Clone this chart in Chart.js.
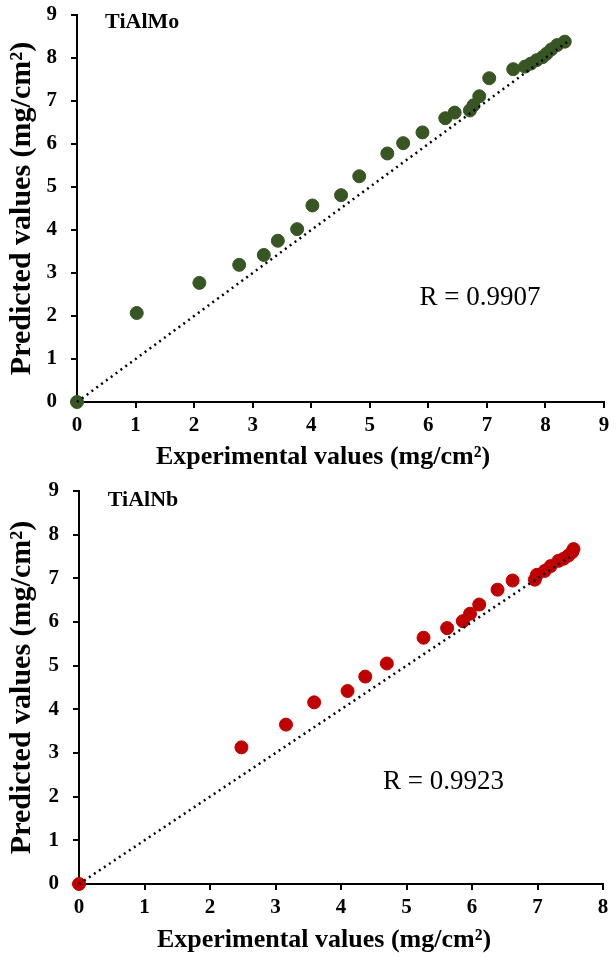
<!DOCTYPE html>
<html lang="en">
<head>
    <meta charset="UTF-8">
    <title>Predicted vs experimental values</title>
    <script src="https://cdn.jsdelivr.net/npm/chart.js"></script>
    <style>
        html, body { margin: 0; padding: 0; background: #ffffff; }
        .box { position: absolute; left: 0; width: 616px; }
        #boxMo { top: 0; height: 470px; }
        #boxNb { top: 470px; height: 488px; }
    </style>
</head>
<body>
    <!-- TiAlMo -->
    <div class="box" id="boxMo"><canvas id="chartMo"></canvas></div>
    <!-- TiAlNb -->
    <div class="box" id="boxNb"><canvas id="chartNb"></canvas></div>

<script>
// =================================================================
//                          data
// =================================================================

// TiAlMo : experimental / predicted (mg/cm2)
const moExperimental = [0, 1.02, 2.09, 2.77, 3.19, 3.43, 3.76, 4.02, 4.51, 4.82, 5.30, 5.57, 5.90, 6.29, 6.45, 6.71, 6.77, 6.87, 7.04, 7.45, 7.65, 7.75, 7.85, 7.95, 8.02, 8.10, 8.20, 8.33];
const moPredicted    = [0, 2.07, 2.77, 3.19, 3.42, 3.75, 4.02, 4.57, 4.81, 5.25, 5.78, 6.02, 6.27, 6.60, 6.73, 6.78, 6.90, 7.11, 7.53, 7.74, 7.80, 7.87, 7.95, 8.02, 8.10, 8.20, 8.30, 8.38];
const moLine = [0, 8.4];        // y = x reference line ends
const moTicks = [0, 1, 2, 3, 4, 5, 6, 7, 8, 9];

// TiAlNb : experimental / predicted (mg/cm2)
const nbExperimental = [0, 2.48, 3.16, 3.59, 4.10, 4.37, 4.70, 5.26, 5.62, 5.86, 5.97, 6.11, 6.39, 6.62, 6.96, 6.99, 7.11, 7.20, 7.32, 7.40, 7.47, 7.53, 7.55];
const nbPredicted    = [0, 3.13, 3.65, 4.16, 4.42, 4.75, 5.05, 5.64, 5.86, 6.02, 6.19, 6.40, 6.74, 6.95, 6.97, 7.08, 7.17, 7.28, 7.40, 7.45, 7.52, 7.60, 7.67];
const nbLine = [0, 7.55];
const nbXTicks = [0, 1, 2, 3, 4, 5, 6, 7, 8];
const nbYTicks = [0, 1, 2, 3, 4, 5, 6, 7, 8, 9];

const xTitle = 'Experimental values (mg/cm²)';
const yTitle = 'Predicted values (mg/cm²)';

// =================================================================
//                          helpers
// =================================================================

function toPoints(xs, ys) {
    let out = [];
    for (let i = 0; i < xs.length; i++) {
        out.push({x: xs[i], y: ys[i]});
    }
    return out;
}

// text inside the plot (data units) + the x title (sits a bit left of centre in the original)
const notesPlugin = {
    id: 'notes',
    afterDraw(chart, args, opts) {
        const ctx = chart.ctx;
        const sx = chart.scales.x, sy = chart.scales.y;
        ctx.save();
        ctx.fillStyle = '#000';
        ctx.textBaseline = 'middle';
        ctx.textAlign = 'left';
        for (const n of opts.items) {
            ctx.font = n.font;
            ctx.fillText(n.text, sx.getPixelForValue(n.x), sy.getPixelForValue(n.y));
        }
        ctx.textAlign = 'center';
        ctx.font = 'bold 26px "Liberation Serif"';
        ctx.fillText(xTitle, opts.titleX, chart.height - opts.titleDy);
        ctx.restore();
    }
};

const tickFont = {family: 'Liberation Serif', size: 21, weight: 'bold'};
const yTitleFont = {family: 'Liberation Serif', size: 30, weight: 'bold', lineHeight: 1};

function makeChart(id, xs, ys, line, xTicks, yTicks, color, xMax, pad, notes) {
    return new Chart(document.getElementById(id), {
        type: 'scatter',
        data: {
            datasets: [{
                label: 'y = x',
                type: 'line',
                data: toPoints(line, line),
                borderColor: '#000',
                borderWidth: 2.5,
                borderDash: [2, 4],
                pointRadius: 0,
                order: 0
            }, {
                label: 'points',
                data: toPoints(xs, ys),
                backgroundColor: color,
                borderColor: color,
                pointRadius: 6.5,
                order: 1
            }]
        },
        options: {
            responsive: true,
            maintainAspectRatio: false,
            animation: false,
            clip: false,
            events: [],
            layout: {padding: {left: 0, right: pad.right, top: pad.top, bottom: 0}},
            plugins: {
                legend: {display: false},
                tooltip: {enabled: false},
                notes: {items: notes, titleX: pad.tx, titleDy: pad.tdy}
            },
            scales: {
                x: {
                    type: 'linear',
                    min: 0, max: xMax,
                    afterBuildTicks: s => { s.ticks = xTicks.map(v => ({value: v})); },
                    afterFit: s => { s.height = pad.xh; s.paddingLeft = 0; s.paddingRight = 0; },
                    grid: {drawOnChartArea: false, drawTicks: true, tickLength: 6, color: '#000', lineWidth: 2},
                    border: {display: true, color: '#000', width: 2},
                    ticks: {color: '#000', font: tickFont, padding: 5, maxRotation: 0},
                    title: {display: false}
                },
                y: {
                    type: 'linear',
                    min: 0, max: 9,
                    afterBuildTicks: s => { s.ticks = yTicks.map(v => ({value: v})); },
                    afterFit: s => { s.width = pad.yw; s.paddingTop = 0; s.paddingBottom = 0; },
                    grid: {drawOnChartArea: false, drawTicks: true, tickLength: 6, color: '#000', lineWidth: 2},
                    border: {display: true, color: '#000', width: 2},
                    ticks: {color: '#000', font: tickFont, padding: 14},
                    title: {display: true, text: yTitle, color: '#000', font: yTitleFont, padding: {top: 7, bottom: 0}}
                }
            }
        },
        plugins: [notesPlugin]
    });
}

// =================================================================
//                          charts
// =================================================================

makeChart('chartMo', moExperimental, moPredicted, moLine, moTicks, moTicks, '#375623', 9,
    {right: 12, top: 15, xh: 68, yw: 77, tx: 323, tdy: 13},
    [{text: 'TiAlMo', x: 0.48, y: 8.84, font: 'bold 22px "Liberation Serif"'},
     {text: 'R = 0.9907', x: 5.85, y: 2.42, font: '27px "Liberation Serif"'}]);

makeChart('chartNb', nbExperimental, nbPredicted, nbLine, nbXTicks, nbYTicks, '#c00000', 8,
    {right: 13, top: 21, xh: 74, yw: 79, tx: 324, tdy: 18},
    [{text: 'TiAlNb', x: 0.44, y: 8.79, font: 'bold 22px "Liberation Serif"'},
     {text: 'R = 0.9923', x: 4.64, y: 2.33, font: '27px "Liberation Serif"'}]);
</script>
</body>
</html>
